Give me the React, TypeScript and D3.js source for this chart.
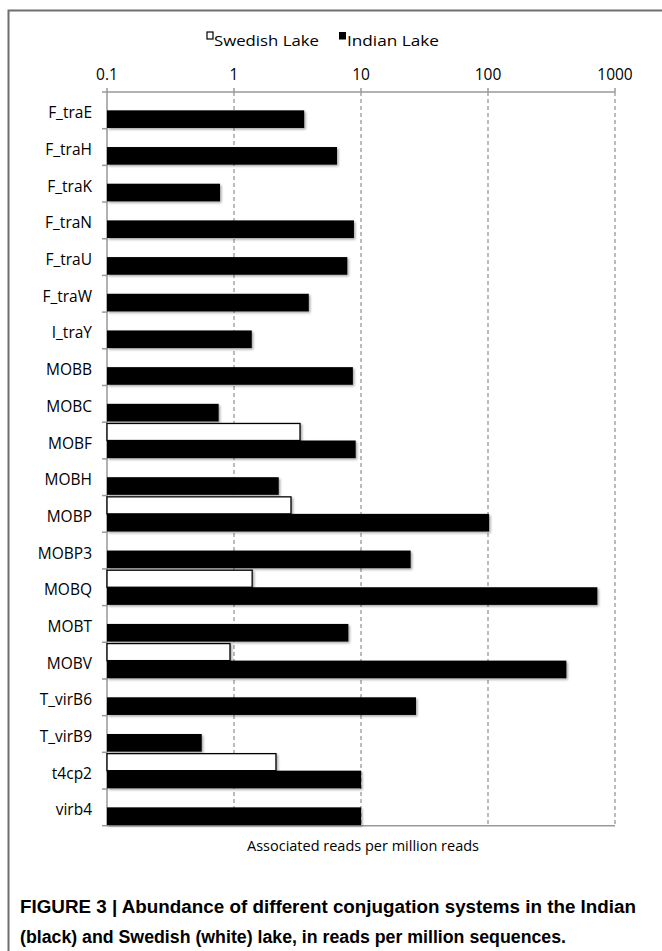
import React from "react";
import * as d3 from "d3";

const categories = ["F_traE","F_traH","F_traK","F_traN","F_traU","F_traW","I_traY","MOBB","MOBC","MOBF","MOBH","MOBP","MOBP3","MOBQ","MOBT","MOBV","T_virB6","T_virB9","t4cp2","virb4"];
const indianLake = [3.57, 6.47, 0.776, 8.8, 7.8, 3.88, 1.38, 8.63, 0.757, 9.08, 2.25, 102, 24.6, 726, 7.95, 414, 27.1, 0.557, 10.0, 10.0];
const swedishLake: (number | null)[] = [null, null, null, null, null, null, null, null, null, 3.31, null, 2.81, null, 1.39, null, 0.93, null, null, 2.14, null];
const seriesNames = ["Swedish Lake", "Indian Lake"];
const tickValues = [0.1, 1, 10, 100, 1000];
const xTitle = "Associated reads per million reads";
const captionLines = [
  "FIGURE 3 | Abundance of different conjugation systems in the Indian",
  "(black) and Swedish (white) lake, in reads per million sequences.",
];

const W = 662, H = 951;
const left = 107, right = 615, top = 92, bottom = 825.7;
const font = "'Open Sans', sans-serif";
const axisColor = "#999";

export default function App() {
  const x = d3.scaleLog().domain([0.1, 1000]).range([left, right]);
  const y = d3.scaleBand<string>().domain(categories).range([top, bottom]).padding(0);
  const sub = d3.scaleBand<string>().domain(seriesNames).range([0, y.bandwidth()]).paddingInner(0).paddingOuter(0.04);

  return (
    <svg width={W} height={H} style={{ position: "absolute", left: 0, top: 0, background: "#fff" }} fontFamily={font}>
      <defs>
        <filter id="sh" x="-5%" y="-30%" width="110%" height="180%">
          <feDropShadow dx="1.5" dy="1.5" stdDeviation="1" floodColor="#000" floodOpacity="0.35" />
        </filter>
      </defs>
      <rect x={0} y={0} width={W} height={H} fill="#fff" />
      {/* frame */}
      <path d={`M8.5,${H + 5} V10.5 H${W + 5}`} fill="none" stroke="#6e6e6e" strokeWidth={2} />

      {/* legend */}
      <rect x={207} y={32} width={6} height={7} fill="#fff" stroke="#000" strokeWidth={1.2} />
      <text x={214} y={46} fontSize={15} fill="#000" textLength={105} lengthAdjust="spacingAndGlyphs">{seriesNames[0]}</text>
      <rect x={339} y={32} width={7} height={7.5} fill="#000" />
      <text x={347} y={46} fontSize={15} fill="#000" textLength={92} lengthAdjust="spacingAndGlyphs">{seriesNames[1]}</text>

      {/* grid lines */}
      {tickValues.slice(1).map((t) => (
        <line key={"g" + t} x1={x(t)} x2={x(t)} y1={top} y2={bottom} stroke={axisColor} strokeWidth={1.3} strokeDasharray="4,3" />
      ))}

      {/* top axis */}
      <line x1={left} x2={right} y1={top} y2={top} stroke={axisColor} strokeWidth={1.5} />
      {tickValues.map((t) => (
        <g key={"t" + t}>
          <line x1={x(t)} x2={x(t)} y1={top - 4} y2={top} stroke={axisColor} strokeWidth={1.5} />
          <text x={x(t)} y={80} fontSize={15.5} textAnchor="middle" fill="#000">{String(t)}</text>
        </g>
      ))}
      {/* bottom axis */}
      <line x1={left} x2={right} y1={bottom} y2={bottom} stroke={axisColor} strokeWidth={1.5} />
      {/* left axis */}
      <line x1={left} x2={left} y1={top} y2={bottom} stroke={axisColor} strokeWidth={1.5} />
      {[...categories.map((c) => y(c)!), bottom].map((v, i) => (
        <line key={"yt" + i} x1={left - 5} x2={left} y1={v} y2={v} stroke={axisColor} strokeWidth={1.5} />
      ))}

      {/* bars */}
      {categories.map((c, i) => {
        const y0 = y(c)!;
        const sw = swedishLake[i];
        return (
          <g key={c}>
            {sw != null && (
              <rect x={left} y={y0 + sub(seriesNames[0])! + 0.6} width={x(sw) - left} height={sub.bandwidth() - 0.6}
                fill="#fff" stroke="#000" strokeWidth={1.3} filter="url(#sh)" />
            )}
            <rect x={left} y={y0 + sub(seriesNames[1])!} width={x(indianLake[i]) - left} height={sub.bandwidth()}
              fill="#000" filter="url(#sh)" />
            <text x={92} y={y0 + y.bandwidth() / 2 + 8} fontSize={15.5} textAnchor="end" fill="#000">{c}</text>
          </g>
        );
      })}

      {/* x title */}
      <text x={(left + right) / 2 + 2} y={851} fontSize={14} textAnchor="middle" fill="#000" textLength={232} lengthAdjust="spacingAndGlyphs">{xTitle}</text>

      {/* caption */}
      <text x={20} y={913} fontSize={18} fontWeight="bold" fontFamily="'Liberation Sans Narrow', 'Liberation Sans', sans-serif"
        textLength={616} lengthAdjust="spacingAndGlyphs" fill="#000">{captionLines[0]}</text>
      <text x={20} y={943} fontSize={18} fontWeight="bold" fontFamily="'Liberation Sans Narrow', 'Liberation Sans', sans-serif"
        textLength={546} lengthAdjust="spacingAndGlyphs" fill="#000">{captionLines[1]}</text>
    </svg>
  );
}
